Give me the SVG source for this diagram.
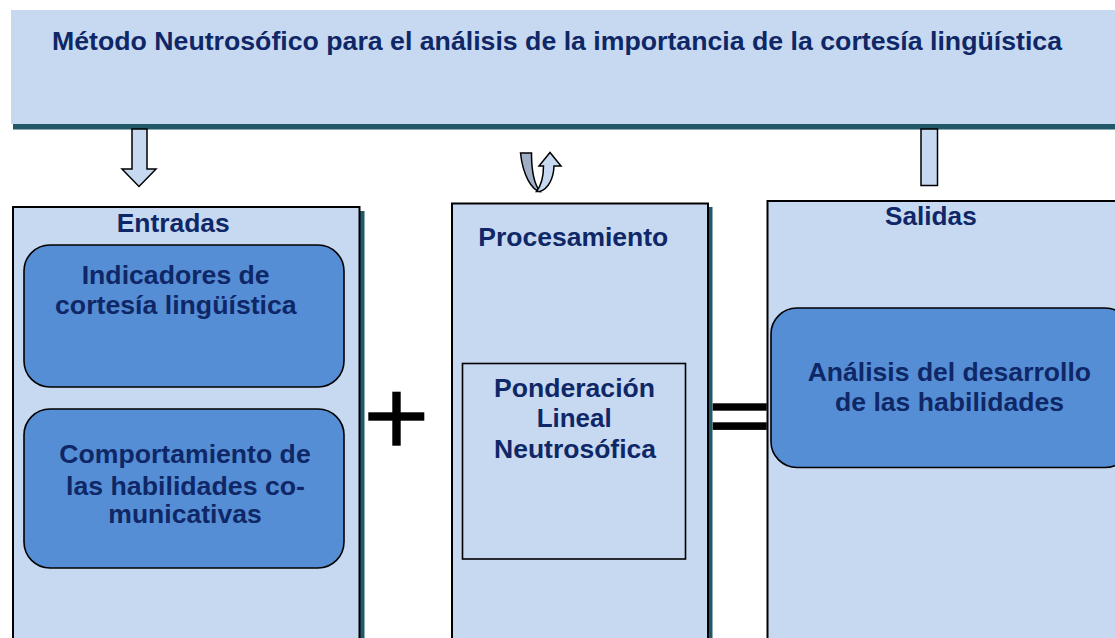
<svg xmlns="http://www.w3.org/2000/svg" width="1115" height="638" viewBox="0 0 1115 638">
<style>
.lt{fill:#c6d9f1}
.box{fill:#c6d9f1;stroke:#000;stroke-width:2}
.sh{fill:#215968}
.pill{fill:#558ed5;stroke:#000;stroke-width:1.6}
.in{fill:#c6d9f1;stroke:#000;stroke-width:1.6}
.t{font-family:"Liberation Sans",Arial,sans-serif;font-weight:bold;font-size:26px;fill:#0f2766}
.op{fill:#000}
</style>
<rect width="1115" height="638" fill="#fff"/>
<g id="header">
<rect class="lt" x="11" y="10" width="1104" height="114"/>
<rect class="sh" x="13" y="124" width="1102" height="5.5"/>
<text class="t" x="52" y="50" font-size="24" textLength="1010" lengthAdjust="spacingAndGlyphs">Método Neutrosófico para el análisis de la importancia de la cortesía lingüística</text>
</g>
<g id="connectors">
<path d="M132,129 L147,129 L147,169 L156,169 L139,186.5 L122,169 L132,169 Z" fill="#c6d9f1" stroke="#000" stroke-width="1.5" stroke-linejoin="miter"/>
<path d="M520.5,153 L531.5,153 C531.5,170 534,184 540,191.5 C532,190 523,176 520.5,153 Z" fill="#a0afc5" stroke="#000" stroke-width="1.5"/>
<path d="M536.5,191.5 C541.5,185 543.5,176 543.5,166 L539,166 L550,152.5 L561,166 L554,166 C553.5,179 548,189 540,191.5 Z" fill="#c6d9f1" stroke="#000" stroke-width="1.5"/>
<rect x="921" y="129" width="16.5" height="56.5" fill="#c6d9f1" stroke="#000" stroke-width="1.5"/>
</g>
<g id="entradas">
<rect class="sh" x="360" y="211" width="4.5" height="430"/>
<rect class="box" x="13" y="207" width="346.5" height="440"/>
<text class="t" x="116.7" y="232" textLength="113" lengthAdjust="spacingAndGlyphs">Entradas</text>
<g id="indicadores">
<rect class="pill" x="24" y="245" width="320" height="142" rx="26"/>
<text class="t" x="81.7" y="284" textLength="188" lengthAdjust="spacingAndGlyphs">Indicadores de</text>
<text class="t" x="55" y="314" textLength="241.7" lengthAdjust="spacingAndGlyphs">cortesía lingüística</text>
</g>
<g id="comportamiento">
<rect class="pill" x="24" y="409" width="320" height="159" rx="26"/>
<text class="t" x="59.3" y="463" textLength="251.4" lengthAdjust="spacingAndGlyphs">Comportamiento de</text>
<text class="t" x="66" y="495" textLength="239" lengthAdjust="spacingAndGlyphs">las habilidades co-</text>
<text class="t" x="108.3" y="523" textLength="153.4" lengthAdjust="spacingAndGlyphs">municativas</text>
</g>
</g>
<g id="plus">
<rect class="op" x="392.3" y="391.7" width="8.4" height="54"/>
<rect class="op" x="368.3" y="412.3" width="56" height="8.4"/>
</g>
<g id="procesamiento">
<rect class="sh" x="708" y="207" width="4.5" height="435"/>
<rect class="box" x="452" y="203.5" width="256" height="440"/>
<text class="t" x="478.3" y="246" textLength="190" lengthAdjust="spacingAndGlyphs">Procesamiento</text>
<g id="ponderacion">
<rect class="in" x="462.5" y="363.5" width="223" height="195.5"/>
<text class="t" x="494" y="397" textLength="161" lengthAdjust="spacingAndGlyphs">Ponderación</text>
<text class="t" x="536.7" y="427" textLength="75" lengthAdjust="spacingAndGlyphs">Lineal</text>
<text class="t" x="494" y="458" textLength="162" lengthAdjust="spacingAndGlyphs">Neutrosófica</text>
</g>
</g>
<g id="equals">
<rect class="op" x="712.7" y="403.3" width="54" height="7.4"/>
<rect class="op" x="712.7" y="422.3" width="54" height="7.6"/>
</g>
<g id="salidas">
<rect class="box" x="767.5" y="201" width="360" height="445"/>
<text class="t" x="885" y="225" textLength="91.7" lengthAdjust="spacingAndGlyphs">Salidas</text>
<g id="analisis">
<rect class="pill" x="771" y="308" width="360" height="159.5" rx="26"/>
<text class="t" x="807.7" y="381" textLength="283.3" lengthAdjust="spacingAndGlyphs">Análisis del desarrollo</text>
<text class="t" x="835" y="411" textLength="229" lengthAdjust="spacingAndGlyphs">de las habilidades</text>
</g>
</g>
</svg>
